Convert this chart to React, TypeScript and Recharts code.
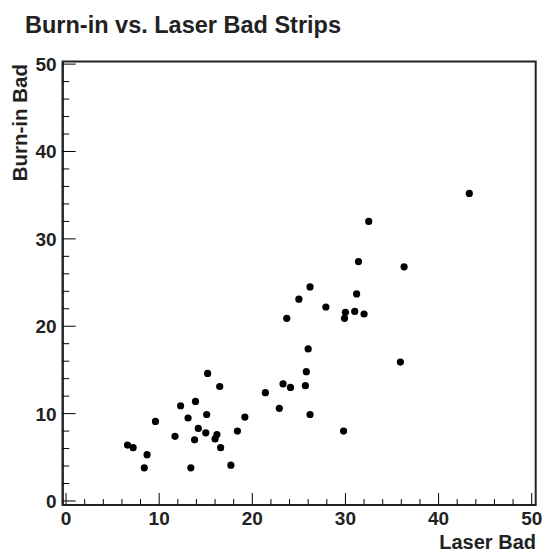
import { ReferenceArea, Scatter, ScatterChart, XAxis, YAxis } from "recharts"

// laser bad strips (x) vs burn-in bad strips (y)
const laserBad = [
  6.6, 7.2, 8.7, 8.4, 9.6, 12.3, 13.9, 13.1, 11.7, 13.8, 13.4, 14.2, 15.2, 16.5, 15.1,
  19.2, 15.0, 16.2, 16.0, 18.4, 16.6, 17.7, 31.4, 36.3, 26.2, 31.2, 25.0, 27.9, 30.0,
  31.0, 32.0, 29.9, 23.7, 26.0, 35.9, 25.8, 23.3, 24.1, 25.7, 21.4, 22.9, 26.2, 29.8,
  43.3, 32.5,
]
const burnInBad = [
  6.4, 6.1, 5.3, 3.8, 9.1, 10.9, 11.4, 9.5, 7.4, 7.0, 3.8, 8.3, 14.6, 13.1, 9.9,
  9.6, 7.8, 7.6, 7.1, 8.0, 6.1, 4.1, 27.4, 26.8, 24.5, 23.7, 23.1, 22.2, 21.6,
  21.7, 21.4, 20.9, 20.9, 17.4, 15.9, 14.8, 13.4, 13.0, 13.2, 12.4, 10.6, 9.9, 8.0,
  35.2, 32.0,
]
const ticks = [0, 2, 4, 6, 8, 10, 12, 14, 16, 18, 20, 22, 24, 26, 28, 30, 32, 34, 36, 38, 40, 42, 44, 46, 48, 50]
const xDomain = [-0.36, 50.43]
const yDomain = [-0.46, 50.3]

const points = laserBad.map((x, i) => ({ x, y: burnInBad[i] }))

const font = "'Liberation Sans', Arial, sans-serif"

function XTick(props: any) {
  const { x, y, payload } = props
  const major = payload.value % 10 === 0
  return (
    <g>
      <line x1={x} x2={x} y1={y} y2={y - (major ? 12 : 6)} stroke="#000" strokeWidth={1} />
      {major && (
        <text x={x} y={y + 20} textAnchor="middle" fontFamily={font} fontWeight="bold" fontSize={19} fill="#222">
          {payload.value}
        </text>
      )}
    </g>
  )
}

function YTick(props: any) {
  const { x, y, payload } = props
  const major = payload.value % 10 === 0
  return (
    <g>
      <line x1={x} x2={x + (major ? 13 : 6.5)} y1={y} y2={y} stroke="#000" strokeWidth={1} />
      {major && (
        <text x={x - 6} y={y + 7} textAnchor="end" fontFamily={font} fontWeight="bold" fontSize={19} fill="#222">
          {payload.value}
        </text>
      )}
    </g>
  )
}

const Dot = (props: any) => <circle cx={props.cx} cy={props.cy} r={3.6} fill="#000" />

export default function App() {
  return (
    <div style={{ position: "absolute", left: 0, top: 0, width: 543, height: 552, background: "#fff" }}>
      <ScatterChart width={543} height={552} margin={{ top: 61.5, right: 7.3, bottom: 0, left: 0 }}>
        <XAxis
          type="number"
          dataKey="x"
          domain={xDomain}
          ticks={ticks}
          interval={0}
          height={47}
          tickSize={0}
          tickMargin={0}
          tick={(p: any) => <XTick {...p} />}
          axisLine={{ stroke: "#222", strokeWidth: 2 }}
          allowDataOverflow
        />
        <YAxis
          type="number"
          dataKey="y"
          domain={yDomain}
          ticks={ticks}
          interval={0}
          width={62.7}
          tickSize={0}
          tickMargin={0}
          tick={(p: any) => <YTick {...p} />}
          axisLine={{ stroke: "#222", strokeWidth: 2 }}
          allowDataOverflow
        />
        <ReferenceArea
          x1={xDomain[0]}
          x2={xDomain[1]}
          y1={yDomain[0]}
          y2={yDomain[1]}
          fill="none"
          fillOpacity={0}
          stroke="#222"
          strokeWidth={2}
        />
        <Scatter data={points} shape={<Dot />} isAnimationActive={false} />
      </ScatterChart>
      <svg width={543} height={552} style={{ position: "absolute", left: 0, top: 0, pointerEvents: "none" }}>
        <text x={25} y={33} fontFamily={font} fontWeight="bold" fontSize={23.5} fill="#222">
          Burn-in vs. Laser Bad Strips
        </text>
        <text x={536} y={549} textAnchor="end" fontFamily={font} fontWeight="bold" fontSize={20} fill="#222">
          Laser Bad
        </text>
        <text
          x={0}
          y={0}
          transform="translate(27, 64) rotate(-90)"
          textAnchor="end"
          fontFamily={font}
          fontWeight="bold"
          fontSize={20.5}
          fill="#222"
        >
          Burn-in Bad
        </text>
      </svg>
    </div>
  )
}
